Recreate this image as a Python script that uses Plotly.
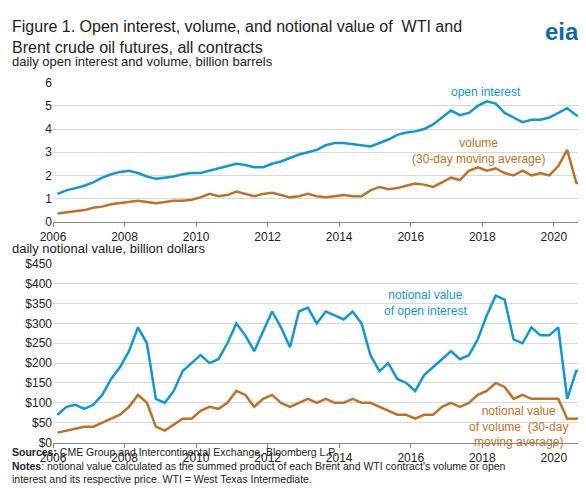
import plotly.graph_objects as go
from plotly.subplots import make_subplots

quarters = [2006 + i*0.25 + 0.125 for i in range(60)]
open_interest = [1.2,1.35,1.45,1.55, 1.7,1.9,2.05,2.15, 2.2,2.1,1.95,1.85, 1.9,1.95,2.05,2.1,
                 2.1,2.2,2.3,2.4, 2.5,2.45,2.35,2.35, 2.5,2.6,2.75,2.9, 3.0,3.1,3.3,3.4,
                 3.4,3.35,3.3,3.25, 3.4,3.55,3.75,3.85, 3.9,4.0,4.2,4.5, 4.8,4.6,4.7,5.0,
                 5.2,5.1,4.7,4.5, 4.3,4.4,4.4,4.5, 4.7,4.9,4.6,4.5]
volume = [0.35,0.4,0.45,0.5, 0.6,0.65,0.75,0.8, 0.85,0.9,0.85,0.8, 0.85,0.9,0.9,0.95,
          1.05,1.2,1.1,1.15, 1.3,1.2,1.1,1.2, 1.25,1.15,1.05,1.1, 1.2,1.1,1.05,1.1,
          1.15,1.1,1.1,1.35, 1.5,1.4,1.45,1.55, 1.65,1.6,1.5,1.7, 1.9,1.8,2.2,2.35,
          2.2,2.3,2.1,2.0, 2.2,2.0,2.1,2.0, 2.4,3.1,1.7,1.5]
notional_oi = [70,90,95,85, 95,120,160,190, 230,290,250,110, 100,130,180,200,
               220,200,210,250, 300,270,230,280, 330,290,240,330, 340,300,330,320,
               310,330,300,220, 180,200,160,150, 130,170,190,210, 230,210,220,260,
               320,370,360,260, 250,290,270,270, 290,110,180,185]
notional_vol = [25,30,35,40, 40,50,60,70, 90,120,100,40, 30,45,60,60,
                80,90,85,100, 130,120,90,110, 120,100,90,100, 110,100,110,100,
                100,110,100,100, 90,80,70,70, 60,70,70,90, 100,90,100,120,
                130,150,140,110, 120,110,110,110, 110,60,60,65]
year_ticks = list(range(2006, 2021, 2))
usd_ticks = list(range(0, 451, 50))

BLUE = "#1296d4"
BROWN = "#bd7229"
FONT = "Liberation Sans"

fig = make_subplots(rows=2, cols=1)
fig.add_trace(go.Scatter(x=quarters, y=open_interest, mode="lines", line=dict(color=BLUE, width=2.5)), 1, 1)
fig.add_trace(go.Scatter(x=quarters, y=volume, mode="lines", line=dict(color=BROWN, width=2.5)), 1, 1)
fig.add_trace(go.Scatter(x=quarters, y=notional_oi, mode="lines", line=dict(color=BLUE, width=2.5)), 2, 1)
fig.add_trace(go.Scatter(x=quarters, y=notional_vol, mode="lines", line=dict(color=BROWN, width=2.5)), 2, 1)

ax = dict(range=[2006, 2020.9], tickvals=year_ticks, showgrid=False, showline=True, linecolor="#888",
          ticks="outside", ticklen=4, tickcolor="#888", zeroline=False, tickfont=dict(size=12))
fig.update_xaxes(**ax, row=1, col=1)
fig.update_xaxes(**ax, row=2, col=1)
fig.update_yaxes(range=[0, 6], dtick=1, gridcolor="#d9d9d9", zeroline=False, domain=[0.564, 0.857], row=1, col=1)
fig.update_yaxes(range=[0, 450], tickvals=usd_ticks, ticktext=["$%d" % v for v in usd_ticks],
                 gridcolor="#d9d9d9", zeroline=False, domain=[0.098, 0.475], row=2, col=1)

ann = [
    dict(x=0.0, y=0.998, text="Figure 1. Open interest, volume, and notional value of  WTI and<br>Brent crude oil futures, all contracts",
         font=dict(size=16, color="#222"), yanchor="top"),
    dict(x=0.0, y=0.902, text="daily open interest and volume, billion barrels", font=dict(size=13), yanchor="middle"),
    dict(x=0.0, y=0.508, text="daily notional value, billion dollars", font=dict(size=13), yanchor="middle"),
    dict(x=0.0, y=0.094, yanchor="top",
         text="<b>Sources:</b> CME Group and Intercontinental Exchange, Bloomberg L.P.<br><b>Notes</b>: notional value calculated as the summed product of each Brent and WTI contract's volume or open<br>interest and its respective price. WTI = West Texas Intermediate.",
         font=dict(size=10.5)),
    dict(x=0.99, y=0.998, xanchor="right", yanchor="top", text="<b>eia</b>", font=dict(size=24, color="#0b6aa8")),
]
for a in ann:
    a.update(xref="paper", yref="paper", showarrow=False, align="left")
    a.setdefault("xanchor", "left")
    a["x"] = a["x"] if a["xanchor"] == "right" else -45/533 + 0.003
data_ann = [
    dict(x=2018.1, y=5.6, xref="x", yref="y", text="open interest", font=dict(size=12, color=BLUE)),
    dict(x=2017.9, y=3.05, xref="x", yref="y", text="volume<br>(30-day moving average)", font=dict(size=12, color=BROWN)),
    dict(x=2016.4, y=352, xref="x2", yref="y2", text="notional value<br>of open interest", font=dict(size=12, color=BLUE)),
    dict(x=2019.0, y=40, xref="x2", yref="y2", text="notional value<br>of volume  (30-day<br>moving average)", font=dict(size=12, color=BROWN)),
]
for a in data_ann:
    a.update(showarrow=False)

fig.update_layout(width=586, height=488, margin=dict(l=45, r=8, t=0, b=0),
                  plot_bgcolor="white", paper_bgcolor="white", showlegend=False,
                  font=dict(family=FONT, size=12, color="#222"), annotations=ann + data_ann)
fig.write_html("out.html")
